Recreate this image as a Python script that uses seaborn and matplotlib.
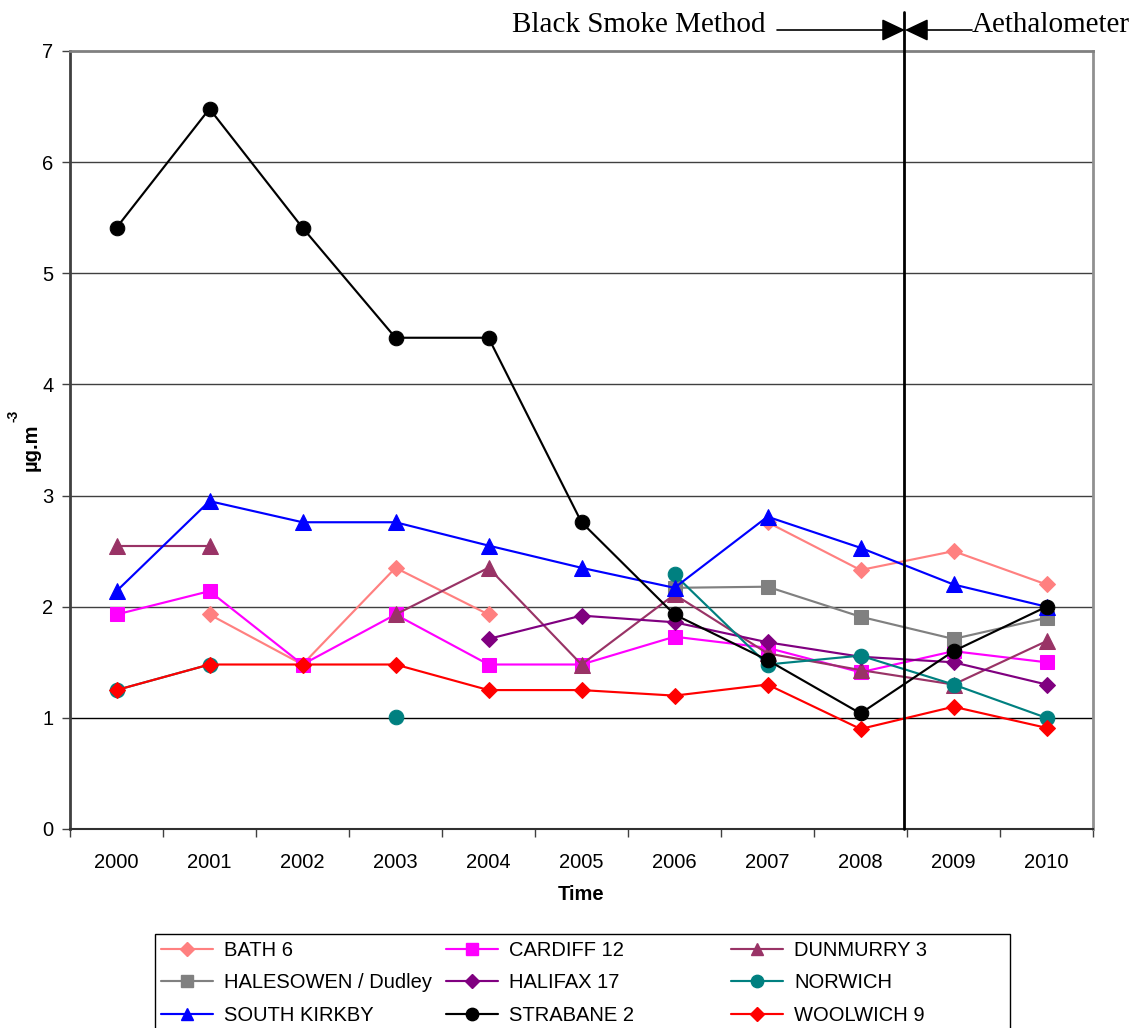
import numpy as np
import pandas as pd
import matplotlib
matplotlib.use("Agg")
import matplotlib.pyplot as plt
import matplotlib.patches as mpatches
import seaborn as sns

years = ["2000", "2001", "2002", "2003", "2004", "2005", "2006", "2007", "2008", "2009", "2010"]

nan = np.nan
bath_6 = [nan, 1.93, 1.48, 2.35, 1.93, nan, nan, 2.76, 2.33, 2.50, 2.20]
cardiff_12 = [1.93, 2.14, 1.48, 1.93, 1.48, 1.48, 1.73, 1.63, 1.41, 1.60, 1.50]
dunmurry_3 = [2.55, 2.55, nan, 1.93, 2.35, 1.48, 2.11, 1.58, 1.43, 1.30, 1.69]
halesowen = [nan, nan, nan, nan, nan, nan, 2.17, 2.18, 1.91, 1.71, 1.90]
halifax_17 = [nan, nan, nan, nan, 1.71, 1.92, 1.86, 1.68, 1.55, 1.50, 1.30]
norwich = [1.25, 1.48, nan, 1.01, nan, nan, 2.29, 1.48, 1.56, 1.30, 1.00]
south_kirkby = [2.14, 2.95, 2.76, 2.76, 2.55, 2.35, 2.17, 2.81, 2.53, 2.20, 2.00]
strabane_2 = [5.41, 6.48, 5.41, 4.42, 4.42, 2.76, 1.93, 1.52, 1.04, 1.60, 2.00]
woolwich_9 = [1.25, 1.48, 1.48, 1.48, 1.25, 1.25, 1.20, 1.30, 0.90, 1.10, 0.91]

site_names = ["BATH 6", "CARDIFF 12", "DUNMURRY 3", "HALESOWEN / Dudley", "HALIFAX 17",
              "NORWICH", "SOUTH KIRKBY", "STRABANE 2", "WOOLWICH 9"]
site_values = [bath_6, cardiff_12, dunmurry_3, halesowen, halifax_17,
               norwich, south_kirkby, strabane_2, woolwich_9]

# Line colour, marker, marker size per site
styles = {
    "BATH 6": ("#FF8080", "D", 8.5),
    "CARDIFF 12": ("#FF00FF", "s", 10.5),
    "DUNMURRY 3": ("#993366", "^", 11),
    "HALESOWEN / Dudley": ("#808080", "s", 10),
    "HALIFAX 17": ("#800080", "D", 8.5),
    "NORWICH": ("#008080", "o", 10.5),
    "SOUTH KIRKBY": ("#0000FF", "^", 11),
    "STRABANE 2": ("#000000", "o", 10.5),
    "WOOLWICH 9": ("#FF0000", "D", 8.5),
}

sns.set_theme(style="white")
plt.rcParams["font.family"] = ["Liberation Sans", "DejaVu Sans"]
for key in ["text.color", "axes.labelcolor", "xtick.color", "ytick.color"]:
    plt.rcParams[key] = "black"

W, H = 1141, 1028
fig = plt.figure(figsize=(W / 100, H / 100), dpi=100)
ax = fig.add_axes([70 / W, 1 - 829 / H, (1093 - 70) / W, (829 - 51) / H])

# Long-form table; gaps split each series into separate runs
rows = []
for name, vals in zip(site_names, site_values):
    seg = 0
    prev_nan = True
    for i, v in enumerate(vals):
        if np.isnan(v):
            prev_nan = True
            continue
        if prev_nan:
            seg += 1
        prev_nan = False
        rows.append({"site": name, "idx": i, "value": v, "run": seg})
df = pd.DataFrame(rows)

handles = {}
for name in site_names:
    color, marker, ms = styles[name]
    sub = df[df["site"] == name]
    for run, part in sub.groupby("run"):
        sns.lineplot(data=part, x="idx", y="value", ax=ax, color=color, marker=marker,
                     markersize=ms, markeredgecolor=color, linewidth=1.55,
                     estimator=None, sort=False, legend=False)
    handles[name] = plt.Line2D([], [], color=color, marker=marker, markersize=ms * 0.85,
                               markeredgecolor=color, linewidth=1.55)

ax.set_xlim(-0.5, len(years) - 0.5)
ax.set_ylim(0, 7)
ax.set_yticks(range(0, 8))
ax.set_yticklabels([str(v) for v in range(0, 8)], fontsize=14.5)
ax.set_xticks(range(len(years)))
ax.set_xticklabels(years, fontsize=14.5)
ax.set_xticks(np.arange(-0.5, len(years), 1.0), minor=True)
ax.tick_params(axis="x", which="major", length=0, pad=17)
ax.tick_params(axis="x", which="minor", length=6, width=1, color="#404040", direction="out", bottom=True)
ax.tick_params(axis="y", which="major", length=6, width=1, color="#404040", direction="out", left=True, pad=6)

ax.grid(False)
for yv in range(1, 7):
    ax.axhline(yv, color="#404040" if yv > 1 else "#000000", linewidth=1, zorder=0)

for side, col, lw in [("left", "#404040", 2), ("bottom", "#303030", 1.5),
                      ("top", "#808080", 2), ("right", "#909090", 2)]:
    ax.spines[side].set_visible(True)
    ax.spines[side].set_color(col)
    ax.spines[side].set_linewidth(lw)

ax.set_xlabel("Time", fontsize=14.5, fontweight="bold", labelpad=10)
ax.set_ylabel("")

# Y axis unit with a raised exponent, written bottom-to-top
fig.text(37 / W, 1 - 471 / H, "µg.m", rotation=90, rotation_mode="anchor",
         ha="left", va="baseline", fontsize=14.5, fontweight="bold")
fig.text(18 / W, 1 - 422 / H, "-3", rotation=90, rotation_mode="anchor",
         ha="left", va="baseline", fontsize=10, fontweight="bold")

# Method change marker between 2008 and 2009
change_x = 8.47
ax.plot([change_x, change_x], [0, 7 + (51 - 12) / (829 - 51) * 7], color="black",
        linewidth=2, clip_on=False, zorder=5)
arrow_y = 1 - 30 / H
xa = 905 / W
arrow_style = "-|>,head_length=0.8,head_width=0.38"
fig.add_artist(mpatches.FancyArrowPatch(
    (777 / W, arrow_y), (xa, arrow_y), transform=fig.transFigure,
    arrowstyle=arrow_style, mutation_scale=18,
    color="black", linewidth=1.2, shrinkA=0, shrinkB=0))
fig.add_artist(mpatches.FancyArrowPatch(
    (972 / W, arrow_y), (xa, arrow_y), transform=fig.transFigure,
    arrowstyle=arrow_style, mutation_scale=18,
    color="black", linewidth=1.2, shrinkA=0, shrinkB=0))
fig.text(766 / W, 1 - 25 / H, "Black Smoke Method", ha="right", va="center",
         fontsize=21, family=["Liberation Serif", "DejaVu Serif"])
fig.text(972 / W, 1 - 25 / H, "Aethalometer", ha="left", va="center",
         fontsize=21, family=["Liberation Serif", "DejaVu Serif"])

# Legend: three evenly spaced columns inside one frame
columns = [["BATH 6", "HALESOWEN / Dudley", "SOUTH KIRKBY"],
           ["CARDIFF 12", "HALIFAX 17", "STRABANE 2"],
           ["DUNMURRY 3", "NORWICH", "WOOLWICH 9"]]
col_left = [157, 442, 727]
for names, x0 in zip(columns, col_left):
    leg = fig.legend([handles[n] for n in names], names, loc="upper left",
                     bbox_to_anchor=(x0 / W, 1 - 937 / H), fontsize=14.5,
                     frameon=False, handlelength=2.6, handletextpad=0.55,
                     labelspacing=0.66, borderpad=0.2, borderaxespad=0)
fig.add_artist(mpatches.Rectangle((155 / W, -0.01), (1010 - 155) / W, 1 - 934 / H + 0.01,
                                  transform=fig.transFigure, fill=False,
                                  edgecolor="black", linewidth=1))

fig.savefig("out.png", dpi=100)
